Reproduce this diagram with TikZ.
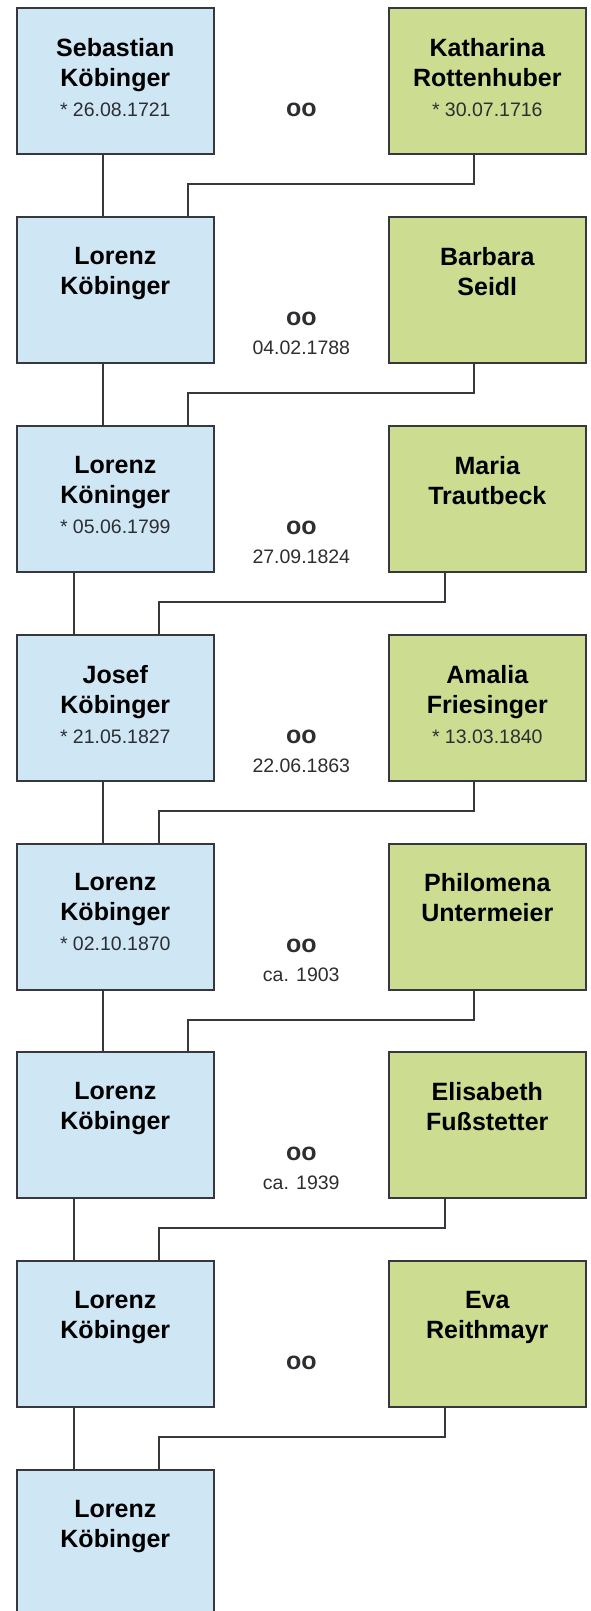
\documentclass[tikz,border=0pt]{standalone}
\usepackage{fontspec}
\setmainfont{Liberation Sans}
\usetikzlibrary{positioning,calc}
\definecolor{himblue}{RGB}{207,231,245}
\definecolor{hergreen}{RGB}{204,221,146}
\definecolor{framegray}{RGB}{55,56,62}
\definecolor{dategray}{RGB}{45,45,50}
\newcommand\namefont{\fontsize{25pt}{30pt}\selectfont\bfseries}
\newcommand\datefont{\fontsize{19.5pt}{30pt}\selectfont\mdseries\color{dategray}}
\newcommand\born[1]{{\datefont * #1}}
\newcommand\wedsign{{\fontsize{25pt}{29pt}\selectfont\bfseries oo}}
\tikzset{
  >= latex,
  him/.style={rectangle, draw=framegray, fill=himblue, line width=2pt, minimum width=197pt, minimum height=146pt, inner sep=0pt},
  her/.style={him, fill=hergreen},
  nm/.style={anchor=north, align=center, inner sep=0pt, font=\namefont},
  wed/.style={anchor=north, align=center, inner sep=0pt, text=dategray, font=\fontsize{19.5pt}{29pt}\selectfont},
  kin/.style={draw=framegray, line width=2pt}
}

\begin{document}
\begin{tikzpicture}[x=1pt, y=-1pt]
  \useasboundingbox (0,0) rectangle (590,1611);

  \node[him] (h1) at (115.3,81.3) {};
  \node[her, right=173pt of h1] (w1) {};
  \node[him, below=60.8pt of h1] (h2) {};
  \node[her, right=173pt of h2] (w2) {};
  \node[him, below=60.8pt of h2] (h3) {};
  \node[her, right=173pt of h3] (w3) {};
  \node[him, below=60.8pt of h3] (h4) {};
  \node[her, right=173pt of h4] (w4) {};
  \node[him, below=60.8pt of h4] (h5) {};
  \node[her, right=173pt of h5] (w5) {};
  \node[him, below=60.8pt of h5] (h6) {};
  \node[her, right=173pt of h6] (w6) {};
  \node[him, below=60.8pt of h6] (h7) {};
  \node[her, right=173pt of h7] (w7) {};
  \node[him, below=60.8pt of h7] (h8) {};

  \node[nm, below=31pt of h1.north] (h1n) {Sebastian\\Köbinger\\\born{26.08.1721}};
  \node[nm, below=31pt of w1.north] (w1n) {Katharina\\Rottenhuber\\\born{30.07.1716}};
  \node[nm, below=31pt of h2.north] (h2n) {Lorenz\\Köbinger};
  \node[nm, below=31pt of w2.north] (w2n) {Barbara\\Seidl};
  \node[nm, below=31pt of h3.north] (h3n) {Lorenz\\Köninger\\\born{05.06.1799}};
  \node[nm, below=31pt of w3.north] (w3n) {Maria\\Trautbeck};
  \node[nm, below=31pt of h4.north] (h4n) {Josef\\Köbinger\\\born{21.05.1827}};
  \node[nm, below=31pt of w4.north] (w4n) {Amalia\\Friesinger\\\born{13.03.1840}};
  \node[nm, below=31pt of h5.north] (h5n) {Lorenz\\Köbinger\\\born{02.10.1870}};
  \node[nm, below=31pt of w5.north] (w5n) {Philomena\\Untermeier};
  \node[nm, below=31pt of h6.north] (h6n) {Lorenz\\Köbinger};
  \node[nm, below=31pt of w6.north] (w6n) {Elisabeth\\Fußstetter};
  \node[nm, below=31pt of h7.north] (h7n) {Lorenz\\Köbinger};
  \node[nm, below=31pt of w7.north] (w7n) {Eva\\Reithmayr};
  \node[nm, below=31pt of h8.north] (h8n) {Lorenz\\Köbinger};

  \node[wed] (m1) at ($(h1.north east)!.5!(w1.north west)+(0,-96pt)$) {\wedsign};
  \node[wed] (m2) at ($(h2.north east)!.5!(w2.north west)+(0,-96pt)$) {\wedsign\\04.02.1788};
  \node[wed] (m3) at ($(h3.north east)!.5!(w3.north west)+(0,-96pt)$) {\wedsign\\27.09.1824};
  \node[wed] (m4) at ($(h4.north east)!.5!(w4.north west)+(0,-96pt)$) {\wedsign\\22.06.1863};
  \node[wed] (m5) at ($(h5.north east)!.5!(w5.north west)+(0,-96pt)$) {\wedsign\\ca. 1903};
  \node[wed] (m6) at ($(h6.north east)!.5!(w6.north west)+(0,-96pt)$) {\wedsign\\ca. 1939};
  \node[wed] (m7) at ($(h7.north east)!.5!(w7.north west)+(0,-96pt)$) {\wedsign};

  \draw[kin] ([xshift=-12.6pt]h1.south) -- ([xshift=-12.6pt]h2.north);
  \draw[kin] ([xshift=-13.5pt]w1.south) -- ++(0,29) -| ([xshift=72.7pt]h2.north);
  \draw[kin] ([xshift=-12.6pt]h2.south) -- ([xshift=-12.6pt]h3.north);
  \draw[kin] ([xshift=-13.5pt]w2.south) -- ++(0,29) -| ([xshift=72.7pt]h3.north);
  \draw[kin] ([xshift=-41.3pt]h3.south) -- ([xshift=-41.3pt]h4.north);
  \draw[kin] ([xshift=-42.5pt]w3.south) -- ++(0,29) -| ([xshift=43.7pt]h4.north);
  \draw[kin] ([xshift=-12.6pt]h4.south) -- ([xshift=-12.6pt]h5.north);
  \draw[kin] ([xshift=-13.5pt]w4.south) -- ++(0,29) -| ([xshift=43.7pt]h5.north);
  \draw[kin] ([xshift=-12.6pt]h5.south) -- ([xshift=-12.6pt]h6.north);
  \draw[kin] ([xshift=-13.5pt]w5.south) -- ++(0,29) -| ([xshift=72.7pt]h6.north);
  \draw[kin] ([xshift=-41.3pt]h6.south) -- ([xshift=-41.3pt]h7.north);
  \draw[kin] ([xshift=-42.5pt]w6.south) -- ++(0,29) -| ([xshift=43.7pt]h7.north);
  \draw[kin] ([xshift=-41.3pt]h7.south) -- ([xshift=-41.3pt]h8.north);
  \draw[kin] ([xshift=-42.5pt]w7.south) -- ++(0,29) -| ([xshift=43.7pt]h8.north);
\end{tikzpicture}
\end{document}
